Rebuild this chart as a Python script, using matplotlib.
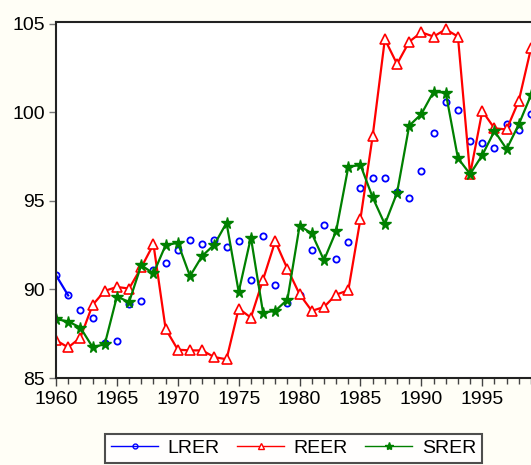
import matplotlib
matplotlib.use("Agg")
import matplotlib.pyplot as plt
from matplotlib.lines import Line2D
from matplotlib.ticker import MultipleLocator

plt.rcParams['font.family'] = ['Liberation Sans', 'DejaVu Sans']

years = list(range(1960, 2000))

lrer = [90.80, 89.66, 88.86, 88.37, 87.00, 87.11, 89.16, 89.37, 91.12, 91.50,
        92.20, 92.80, 92.59, 92.77, 92.38, 92.71, 90.52, 93.00, 90.24, 89.24,
        89.66, 92.20, 93.63, 91.74, 92.65, 95.70, 96.27, 96.27, 95.48, 95.14,
        96.66, 98.81, 100.57, 100.13, 98.35, 98.26, 97.98, 99.34, 98.98, 99.90]

reer = [87.13, 86.73, 87.28, 89.12, 89.92, 90.14, 90.05, 91.24, 92.55, 87.77,
        86.60, 86.56, 86.56, 86.18, 86.06, 88.92, 88.41, 90.56, 92.72, 91.16,
        89.73, 88.79, 89.01, 89.71, 89.95, 94.00, 98.66, 104.12, 102.72, 103.98,
        104.51, 104.27, 104.68, 104.27, 96.49, 100.07, 99.09, 99.03, 100.65, 103.61]

srer = [88.33, 88.19, 87.85, 86.75, 86.90, 89.60, 89.29, 91.37, 90.90, 92.50,
        92.63, 90.75, 91.89, 92.53, 93.76, 89.86, 92.93, 88.69, 88.79, 89.43,
        93.59, 93.16, 91.65, 93.29, 96.92, 97.02, 95.19, 93.68, 95.45, 99.24,
        99.90, 101.16, 101.10, 97.41, 96.51, 97.58, 98.94, 97.92, 99.32, 100.97]

fig = plt.figure(figsize=(5.31, 4.65), dpi=100, facecolor='#fffef6')
ax = fig.add_axes([0.1055, 0.187, 0.8945, 0.766])
ax.set_facecolor('white')

# LRER: only the first segment is joined, the rest are bare markers
ax.plot(years[:2], lrer[:2], color='blue', lw=1.6)
ax.plot(years, lrer, ls='none', marker='o', ms=4.5, mfc='none', mec='blue', mew=1.3)
ax.plot(years, reer, color='red', lw=1.6, marker='^', ms=7, mfc='white', mec='red', mew=1.2)
ax.plot(years, srer, color='green', lw=1.6, marker='*', ms=8.5, mfc='green', mec='green')

ax.set_xlim(1960, 1999)
ax.set_ylim(85, 105.1)
ax.xaxis.set_major_locator(MultipleLocator(5))
ax.xaxis.set_minor_locator(MultipleLocator(1))
ax.yaxis.set_major_locator(MultipleLocator(5))

ax.tick_params(axis='x', which='major', direction='out', length=6, width=1, color='#444444',
               labelsize=14, pad=3.5)
ax.tick_params(axis='x', which='minor', direction='out', length=4, width=1, color='#444444')
ax.tick_params(axis='y', direction='out', length=5, width=1, color='#777777', labelsize=14, pad=3)

for side in ['left', 'top', 'bottom']:
    ax.spines[side].set_linewidth(1.5)
    ax.spines[side].set_color('#222222')
ax.spines['right'].set_visible(False)

handles = [
    Line2D([], [], color='blue', lw=1, marker='o', ms=3.5, mfc='none', mec='blue'),
    Line2D([], [], color='red', lw=1, marker='^', ms=5, mfc='white', mec='red'),
    Line2D([], [], color='green', lw=1, marker='*', ms=6, mfc='green', mec='green'),
]
leg = fig.legend(handles, ['LRER', 'REER', 'SRER'], loc='lower center',
                 bbox_to_anchor=(0.553, 0.0), ncol=3, fontsize=14, frameon=True,
                 fancybox=False, edgecolor='#222222', handlelength=2.4, handletextpad=0.5,
                 columnspacing=0.9, borderpad=0.3, borderaxespad=0.1)
leg.get_frame().set_linewidth(1.5)

fig.savefig('out.png', dpi=100, facecolor=fig.get_facecolor())
